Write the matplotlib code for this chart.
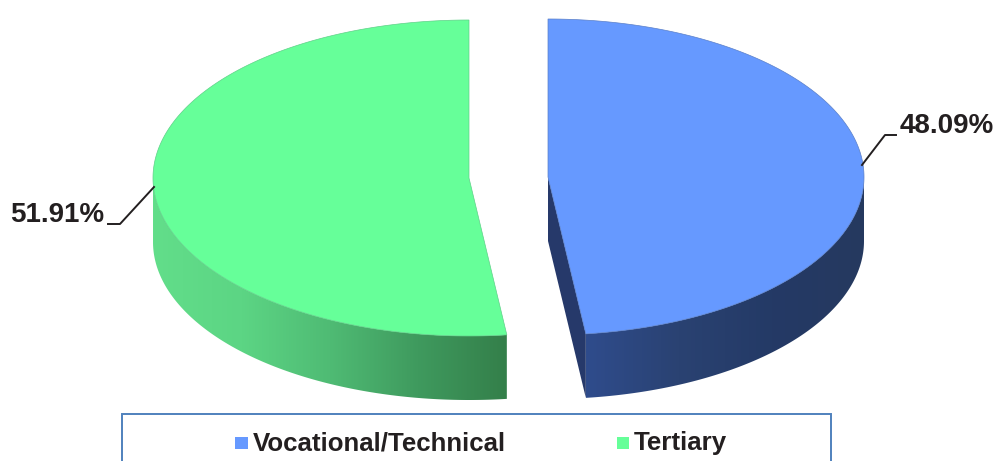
"""3D exploded pie: Vocational/Technical vs Tertiary"""

import numpy as np
import matplotlib
matplotlib.use("Agg")
import matplotlib.pyplot as plt
from matplotlib.colors import LinearSegmentedColormap
from matplotlib.patches import Polygon, Rectangle

plt.rcParams['font.family'] = ['Liberation Sans', 'DejaVu Sans']

categories = ["Vocational/Technical", "Tertiary"]
shares = [48.09, 51.91]
top_colors = ["#6699FF", "#66FF99"]
value_labels = ["48.09%", "51.91%"]

W, H = 996, 461
RX, RY, DEPTH = 316, 158, 64
text_color = "#231F20"

fig = plt.figure(figsize=(W / 100, H / 100), dpi=100)
ax = fig.add_axes([0, 0, 1, 1])
ax.set_xlim(0, W)
ax.set_ylim(H, 0)
ax.axis("off")


def rim(cx, cy, ang):
    # angle is clockwise from 12 o'clock, in radians
    return cx + RX * np.sin(ang), cy - RY * np.cos(ang)


def draw_side(cx, cy, a0, a1, cmap):
    # wall of the slice, gradient image clipped to the wall outline
    ang = np.linspace(a0, a1, 260)
    xs, ys = rim(cx, cy, ang)
    outline = np.c_[np.r_[xs, xs[::-1]], np.r_[ys, ys[::-1] + DEPTH]]
    clip = Polygon(outline, closed=True, transform=ax.transData, fc="none", ec="none")
    ax.add_patch(clip)
    grad = np.linspace(0, 1, 256).reshape(1, -1)
    im = ax.imshow(grad, cmap=cmap, aspect="auto", zorder=2, interpolation="bilinear",
                   extent=[xs.min(), xs.max(), ys.max() + DEPTH, ys.min()])
    im.set_clip_path(clip)


# blue slice, starts at 12 o'clock and goes clockwise
blue_end = shares[0] / 100 * 2 * np.pi
bx, by = 548, 177
blue_cmap = LinearSegmentedColormap.from_list("b", ["#2F4C8C", "#2A4272", "#243A66", "#26395F"])
xe, ye = rim(bx, by, blue_end)
ax.fill([bx, xe, xe, bx], [by, ye, ye + DEPTH, by + DEPTH], color="#26396A", lw=0, zorder=1)
draw_side(bx, by, np.pi / 2, blue_end, blue_cmap)
ang = np.linspace(0, blue_end, 300)
xs, ys = rim(bx, by, ang)
ax.fill(np.r_[bx, xs], np.r_[by, ys], color=top_colors[0], ec="#5A7FC8", lw=0.5, zorder=3)

# green slice, the rest of the circle
green_start = 2 * np.pi - shares[1] / 100 * 2 * np.pi
gx, gy = 469, 178
green_cmap = LinearSegmentedColormap.from_list("g", ["#62DE8A", "#5CD584", "#4FBB74", "#3F9A5E", "#347F4A"])
draw_side(gx, gy, 1.5 * np.pi, green_start, green_cmap)
ang = np.linspace(green_start, 2 * np.pi, 300)
xs, ys = rim(gx, gy, ang)
ax.fill(np.r_[gx, xs], np.r_[gy, ys], color=top_colors[1], ec="#5FD088", lw=0.5, zorder=3)

ax.set_xlim(0, W)
ax.set_ylim(H, 0)

# labels and leader lines
ax.plot([862, 885, 896], [165, 135, 135], color=text_color, lw=1.4, zorder=4)
ax.plot([154, 120, 108], [187, 224, 224], color=text_color, lw=1.4, zorder=4)
ax.text(900, 126, value_labels[0], fontsize=20, fontweight="bold", color=text_color, ha="left", va="center")
ax.text(104, 215, value_labels[1], fontsize=20, fontweight="bold", color=text_color, ha="right", va="center")

# legend box runs off the bottom of the picture
ax.add_patch(Rectangle((121.5, 413.5), 709, 60, fc="white", ec="#4F81BD", lw=1.4, zorder=1))
ax.add_patch(Rectangle((235, 437), 13, 12, fc=top_colors[0], lw=0, zorder=2))
ax.add_patch(Rectangle((617, 437), 12, 12, fc=top_colors[1], lw=0, zorder=2))
ax.text(253, 443, categories[0], fontsize=18.6, fontweight="bold", color=text_color, va="center")
ax.text(634, 443, categories[1], fontsize=18.6, fontweight="bold", color=text_color, va="center")

fig.savefig("out.png", dpi=100, facecolor="white")
